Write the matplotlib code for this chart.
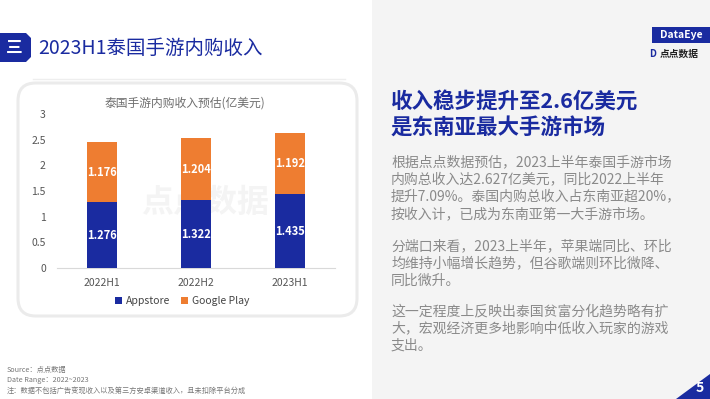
import matplotlib.pyplot as plt
from matplotlib.patches import Rectangle, FancyBboxPatch, Polygon
import numpy as np

plt.rcParams['font.family'] = ['Noto Sans CJK SC', 'DejaVu Sans']

W, H = 710, 399

categories = ['2022H1', '2022H2', '2023H1']
appstore = [1.276, 1.322, 1.435]
google_play = [1.176, 1.204, 1.192]
y_ticks = [0, 0.5, 1, 1.5, 2, 2.5, 3]
y_tick_labels = ['0', '0.5', '1', '1.5', '2', '2.5', '3']

blue = '#1a2ba0'
orange = '#ee7d31'
gray_text = '#8a8a8a'


def px(x, y):
    return x / W, 1 - y / H


fig = plt.figure(figsize=(W / 100, H / 100), dpi=100)
fig.patch.set_facecolor('white')

# right gray panel
fig.patches.append(Rectangle(px(372, 399), (W - 372) / W, 1, transform=fig.transFigure,
                             facecolor='#f4f4f4', edgecolor='none', zorder=0))

# title tag
tag = Polygon([px(0, 33), px(26, 33), px(31, 38), px(31, 57), px(26, 62), px(0, 62)],
              closed=True, transform=fig.transFigure, facecolor=blue, edgecolor='none')
fig.patches.append(tag)
fig.text(*px(14, 48), '三', color='white', fontsize=12, fontweight='bold', ha='center', va='center')
fig.text(*px(38, 48), '2023H1泰国手游内购收入', color=blue, fontsize=14, ha='left', va='center')
fig.lines.append(plt.Line2D([33 / W, 345 / W], [1 - 79 / H, 1 - 79 / H], transform=fig.transFigure,
                            color='#eeeeee', lw=1))

# chart card
card = FancyBboxPatch(px(18, 316), 339 / W, 233 / H, boxstyle='round,pad=0,rounding_size=0.025',
                      transform=fig.transFigure, facecolor='white', edgecolor='#ebebeb', lw=2.2,
                      mutation_aspect=W / H, zorder=0)
fig.patches.append(card)

fig.text(*px(185, 103), '泰国手游内购收入预估(亿美元)', color='#6e6e6e', fontsize=8.5, ha='center', va='center')

# watermark
fig.text(*px(205, 203), '点点数据', color='#f4f4f4', fontsize=23, fontweight='bold',
         ha='center', va='center', zorder=1)

ax = fig.add_axes([57 / W, (H - 268) / H, 278 / W, 154 / H])
ax.set_zorder(2)
ax.set_facecolor('none')
x = np.arange(len(categories))
b1 = ax.bar(x, appstore, width=0.32, color=blue, label='Appstore', zorder=3)
b2 = ax.bar(x, google_play, width=0.32, bottom=appstore, color=orange, label='Google Play', zorder=3)
for i in range(len(categories)):
    ax.text(x[i], appstore[i] / 2, f'{appstore[i]:.3f}', color='white', fontsize=8, fontweight='bold',
            ha='center', va='center', zorder=4)
    ax.text(x[i], appstore[i] + google_play[i] / 2, f'{google_play[i]:.3f}', color='white', fontsize=8,
            fontweight='bold', ha='center', va='center', zorder=4)

ax.set_xlim(-0.48, 2.48)
ax.set_ylim(0, 3)
ax.set_yticks(y_ticks)
ax.set_yticklabels(y_tick_labels)
ax.set_xticks(x)
ax.set_xticklabels(categories)
for s in ['top', 'right', 'left']:
    ax.spines[s].set_visible(False)
ax.spines['bottom'].set_color('#d9d9d9')
ax.tick_params(axis='both', length=0, labelsize=7.5, colors='#555555')
ax.tick_params(axis='y', pad=8)
ax.tick_params(axis='x', pad=7)
ax.legend(loc='center', bbox_to_anchor=(0.45, -0.215), ncol=2, frameon=False, fontsize=7.5,
          handlelength=0.7, handleheight=0.7, handletextpad=0.4, columnspacing=1.0,
          labelcolor='#444444')

# right panel text
fig.text(*px(391, 101), '收入稳步提升至2.6亿美元', color=blue, fontsize=15.5, fontweight='bold',
         ha='left', va='center')
fig.text(*px(391, 128), '是东南亚最大手游市场', color=blue, fontsize=15.5, fontweight='bold',
         ha='left', va='center')

paragraphs = [
    (162, ['根据点点数据预估，2023上半年泰国手游市场',
           '内购总收入达2.627亿美元，同比2022上半年',
           '提升7.09%。泰国内购总收入占东南亚超20%，',
           '按收入计，已成为东南亚第一大手游市场。']),
    (246, ['分端口来看，2023上半年，苹果端同比、环比',
           '均维持小幅增长趋势，但谷歌端则环比微降、',
           '同比微升。']),
    (311, ['这一定程度上反映出泰国贫富分化趋势略有扩',
           '大，宏观经济更多地影响中低收入玩家的游戏',
           '支出。']),
]
for y0, lines in paragraphs:
    for k, line in enumerate(lines):
        fig.text(*px(391, y0 + 17.3 * k), line, color=gray_text, fontsize=10, ha='left', va='center')

# logo
fig.patches.append(Rectangle(px(652, 43), 58 / W, 16 / H, transform=fig.transFigure,
                             facecolor=blue, edgecolor='none'))
fig.text(*px(681, 35), 'DataEye', color='white', fontsize=7.5, fontweight='bold', ha='center', va='center')
fig.text(*px(653, 54), 'D', color=blue, fontsize=7, fontweight='bold', ha='center', va='center')
fig.text(*px(660, 54), '点点数据', color='#222222', fontsize=7, fontweight='bold', ha='left', va='center')

# footer
fig.text(*px(7, 370), 'Source：点点数据', color='#777777', fontsize=5.2, ha='left', va='center')
fig.text(*px(7, 380), 'Date Range：2022~2023', color='#777777', fontsize=5.2, ha='left', va='center')
fig.text(*px(7, 391), '注：数据不包括广告变现收入以及第三方安卓渠道收入，且未扣除平台分成', color='#777777',
         fontsize=5.2, ha='left', va='center')

# page number
fig.patches.append(Polygon([px(676, 399), px(710, 399), px(710, 374)], closed=True,
                           transform=fig.transFigure, facecolor=blue, edgecolor='none'))
fig.text(*px(700, 388), '5', color='white', fontsize=10, fontweight='bold', ha='center', va='center',
         zorder=5)

fig.savefig('out.png', dpi=100)
